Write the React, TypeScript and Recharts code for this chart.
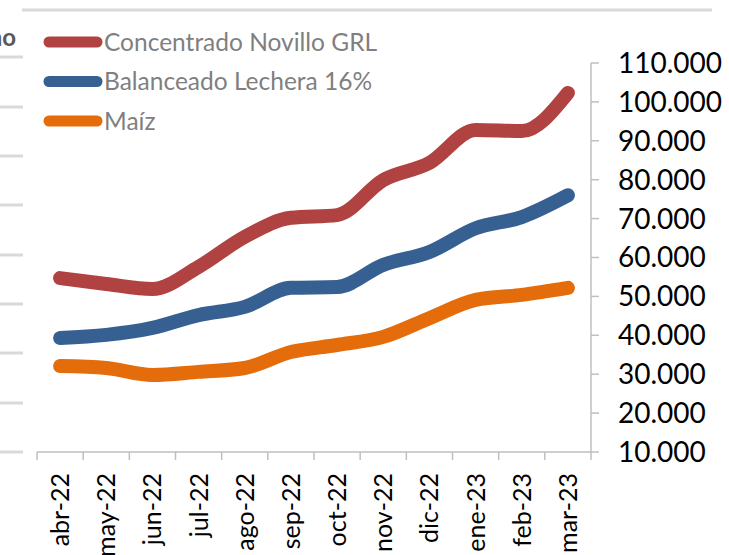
import React from 'react';
import { LineChart, Line, XAxis, YAxis } from 'recharts';

const CATEGORIES = ['abr-22', 'may-22', 'jun-22', 'jul-22', 'ago-22', 'sep-22', 'oct-22', 'nov-22', 'dic-22', 'ene-23', 'feb-23', 'mar-23'];
const CONCENTRADO = [54700, 53200, 51900, 57600, 65300, 70200, 70900, 79900, 84300, 92800, 92500, 102300];
const BALANCEADO = [39300, 40100, 41900, 45200, 47300, 52200, 52400, 58100, 61400, 67500, 70400, 76000];
const MAIZ = [32100, 31600, 29800, 30600, 31600, 35700, 37500, 39600, 44400, 49100, 50400, 52200];
const Y_TICKS = [10000, 20000, 30000, 40000, 50000, 60000, 70000, 80000, 90000, 100000, 110000];

const SERIES = [
  { key: 'concentrado', name: 'Concentrado Novillo GRL', color: '#B04341' },
  { key: 'balanceado', name: 'Balanceado Lechera 16%', color: '#376092' },
  { key: 'maiz', name: 'Maíz', color: '#E46C0A' },
];

const data = CATEGORIES.map((c, i) => ({
  cat: c,
  concentrado: CONCENTRADO[i],
  balanceado: BALANCEADO[i],
  maiz: MAIZ[i],
}));

const W = 729;
const H = 555;
const PLOT_LEFT = 37;
const PLOT_RIGHT = 591;
const PLOT_TOP = 63;
const PLOT_BOTTOM = 452;
const BAND = (PLOT_RIGHT - PLOT_LEFT) / CATEGORIES.length;
const FONT = 'Lato, "Open Sans", sans-serif';
const AXIS_GRAY = '#BFBFBF';

const fmt = (v: number) => String(v).replace(/\B(?=(\d{3})+(?!\d))/g, '.');

const XTick = (props: any) => {
  const { x, payload, index } = props;
  const half = BAND / 2;
  const ly = 473;
  return (
    <g>
      <line x1={x - half} x2={x - half} y1={PLOT_BOTTOM} y2={PLOT_BOTTOM + 8} stroke={AXIS_GRAY} strokeWidth={1.5} />
      {index === CATEGORIES.length - 1 && (
        <line x1={x + half} x2={x + half} y1={PLOT_BOTTOM} y2={PLOT_BOTTOM + 8} stroke={AXIS_GRAY} strokeWidth={1.5} />
      )}
      <text
        x={x}
        y={ly}
        dy="0.36em"
        textAnchor="end"
        transform={`rotate(-90, ${x}, ${ly})`}
        fill="#000"
        fontSize={25}
        fontFamily={FONT}
      >
        {payload.value}
      </text>
    </g>
  );
};

const LEFT_DASHES = [57, 107, 156, 205, 255, 304, 353, 403, 452];

export default function App() {
  return (
    <div style={{ position: 'absolute', left: 0, top: 0, width: W, height: H, background: '#fff', overflow: 'hidden' }}>
      <LineChart
        width={W}
        height={H}
        data={data}
        margin={{ top: PLOT_TOP, right: 0, bottom: 0, left: PLOT_LEFT }}
      >
        <XAxis
          dataKey="cat"
          scale="band"
          interval={0}
          height={H - PLOT_BOTTOM}
          tickLine={false}
          axisLine={{ stroke: AXIS_GRAY, strokeWidth: 1.5 }}
          tick={<XTick />}
        />
        <YAxis
          orientation="right"
          width={W - PLOT_RIGHT}
          domain={[10000, 110000]}
          ticks={Y_TICKS}
          interval={0}
          tickSize={8}
          tickMargin={19}
          tickFormatter={fmt}
          axisLine={{ stroke: AXIS_GRAY, strokeWidth: 1.5 }}
          tickLine={{ stroke: AXIS_GRAY, strokeWidth: 1.5 }}
          tick={{ fill: '#000', fontSize: 28, fontFamily: FONT }}
        />
        {SERIES.map((s) => (
          <Line
            key={s.key}
            dataKey={s.key}
            name={s.name}
            type="monotone"
            stroke={s.color}
            strokeWidth={14}
            strokeLinecap="round"
            strokeLinejoin="round"
            dot={false}
            activeDot={false}
            isAnimationActive={false}
          />
        ))}
      </LineChart>
      <svg width={W} height={H} style={{ position: 'absolute', left: 0, top: 0, pointerEvents: 'none' }}>
        <line x1={22} x2={712} y1={10} y2={10} stroke="#D9D9D9" strokeWidth={3} />
        {LEFT_DASHES.map((y) => (
          <line key={y} x1={0} x2={23} y1={y} y2={y} stroke="#D9D9D9" strokeWidth={3} />
        ))}
        <text x={16} y={46} textAnchor="end" fontSize={24} fontWeight="bold" fill="#595959" fontFamily={FONT}>
          año
        </text>
        {SERIES.map((s, i) => {
          const y = 42 + i * 39.5;
          return (
            <g key={s.key}>
              <line x1={49} x2={97} y1={y} y2={y} stroke={s.color} strokeWidth={11} strokeLinecap="round" />
              <text x={104} y={y} dy="0.36em" fontSize={24.5} fill="#7F7F7F" fontFamily={FONT}>
                {s.name}
              </text>
            </g>
          );
        })}
      </svg>
    </div>
  );
}
